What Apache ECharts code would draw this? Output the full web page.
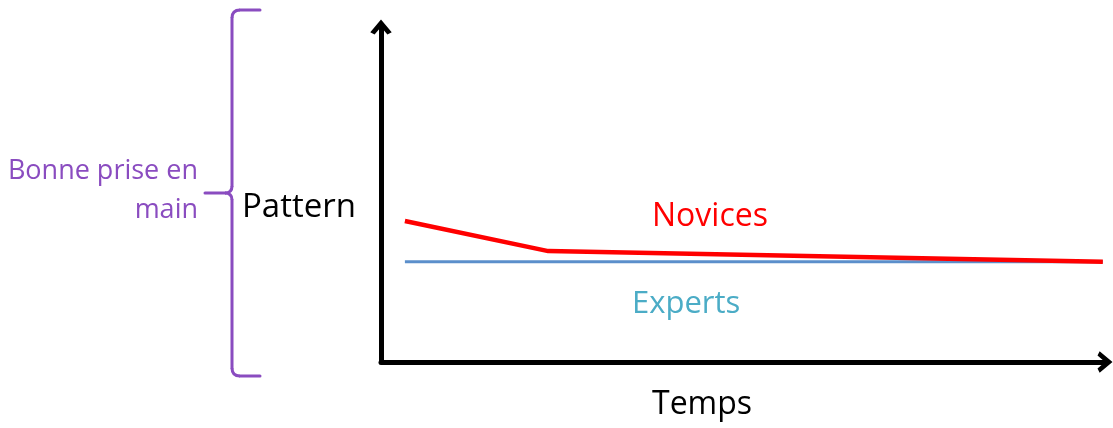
<!DOCTYPE html>
<html>
<head>
<meta charset="utf-8">
<script src="https://cdn.jsdelivr.net/npm/echarts@6/dist/echarts.min.js"></script>
<style>
  html, body { margin: 0; padding: 0; background: #fff; }
  #chart { width: 1113px; height: 428px; }
</style>
</head>
<body>
<div id="chart"></div>
<script>
// time (x, 0-100) and pattern level (y, 0-100)
var novicesX = [3.3, 23.1, 99.7];
var novicesY = [42.1, 33.1, 29.9];
var expertsX = [3.3, 99.7];
var expertsY = [29.9, 29.9];

var seriesNames = ['Novices', 'Experts'];
var axisNames = ['Temps', 'Pattern'];
var braceText = ['Bonne prise en', 'main'];

function pairs(xs, ys) {
  return xs.map(function (x, i) { return [x, ys[i]]; });
}

var font = '"Open Sans", "Noto Sans", sans-serif';
var purple = '#8a4cc0';
// notched arrow head, pointing up
var arrowHead = 'path://M10,0 L20,12 L16,14 L10,7 L4,14 L0,12 Z';

function label(text, x, y, color, size, align) {
  return {
    type: 'text', x: x, y: y, silent: true,
    style: { text: text, fill: color, font: size + 'px ' + font, align: align || 'left', verticalAlign: 'middle' }
  };
}
function seg(x1, y1, x2, y2) {
  return { type: 'line', silent: true, shape: { x1: x1, y1: y1, x2: x2, y2: y2 },
    style: { stroke: purple, lineWidth: 3, lineCap: 'round' } };
}
function curve(x1, y1, cx, cy, x2, y2) {
  return { type: 'bezierCurve', silent: true,
    shape: { x1: x1, y1: y1, cpx1: cx, cpy1: cy, x2: x2, y2: y2 },
    style: { stroke: purple, lineWidth: 3, fill: 'none' } };
}

var axisCommon = {
  type: 'value', min: 0, max: 100,
  axisLine: { show: true, onZero: false, symbol: ['none', arrowHead], symbolSize: [22, 15],
    lineStyle: { color: '#000', width: 5 } },
  axisTick: { show: false }, axisLabel: { show: false }, splitLine: { show: false }
};

var chart = echarts.init(document.getElementById('chart'));
chart.setOption({
  animation: false,
  grid: { left: 381, right: 8, top: 27, bottom: 66 },
  xAxis: axisCommon,
  yAxis: axisCommon,
  series: [
    {
      name: seriesNames[1], type: 'line', data: pairs(expertsX, expertsY),
      symbol: 'none', lineStyle: { color: '#5b8fcb', width: 3 }
    },
    {
      name: seriesNames[0], type: 'line', data: pairs(novicesX, novicesY),
      symbol: 'none', lineStyle: { color: '#ff0000', width: 4.5 }
    }
  ],
  graphic: [
    label(seriesNames[0], 652, 217, '#ff0000', 32),
    label(seriesNames[1], 632, 304, '#4bacc6', 31),
    label(axisNames[0], 652, 405, '#000', 32),
    label(axisNames[1], 242, 208, '#000', 33),
    label(braceText[0], 198, 171, purple, 27, 'right'),
    label(braceText[1], 198, 210, purple, 27, 'right'),
    seg(240, 10, 260, 10),
    curve(240, 10, 232, 10, 232, 18),
    seg(232, 18, 232, 186),
    curve(232, 186, 232, 193, 225, 193),
    seg(225, 193, 205, 193),
    curve(225, 193, 232, 193, 232, 200),
    seg(232, 200, 232, 368),
    curve(232, 368, 232, 376, 240, 376),
    seg(240, 376, 260, 376)
  ]
});
</script>
</body>
</html>
